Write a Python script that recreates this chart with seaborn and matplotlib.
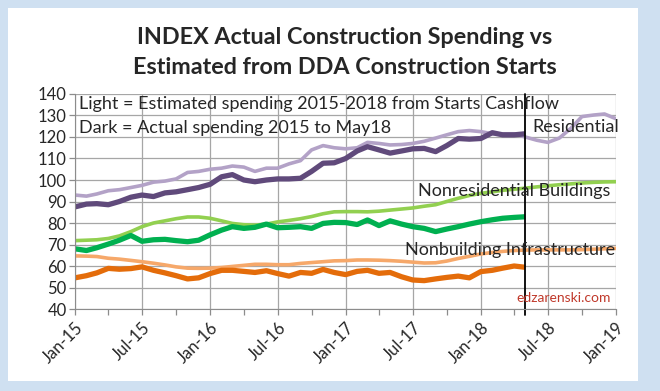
import matplotlib
matplotlib.use("Agg")
import matplotlib.pyplot as plt
import matplotlib.dates as mdates
import matplotlib.patches as mpatches
import numpy as np
import pandas as pd
import seaborn as sns

# monthly index values, Jan-15 onward
months_est = pd.date_range("2015-01-01", "2019-01-01", freq="MS")   # 49 months
months_act = pd.date_range("2015-01-01", "2018-05-01", freq="MS")   # 41 months

res_est = [93, 92.5, 93.5, 95, 95.5, 96.5, 97.5, 99, 99.5, 100.5, 103.5, 104,
           105, 105.5, 106.5, 106, 104, 105.5, 105.5, 107.5, 109, 114, 116, 115,
           114.5, 115, 117.5, 117, 116.3, 116.5, 117, 118, 119.5, 121, 122.5, 123,
           122.5, 121.5, 121.5, 121.5, 120, 118.5, 117.5, 119.5, 124, 129.5, 130.2, 130.7,
           128.5]
res_act = [87.5, 88.8, 89, 88.5, 90, 92, 93, 92.3, 94, 94.5, 95.5, 96.5,
           98, 101.5, 102.5, 100, 99.2, 100, 100.5, 100.5, 100.8, 104, 107.8, 108,
           110, 113.5, 115.5, 114, 112.5, 113.5, 114.5, 114.7, 113.2, 116, 119.3, 119,
           119.3, 122, 121, 121, 121.5]

nonres_est = [71.8, 72, 72.2, 72.8, 74, 76, 78.3, 80, 81, 82, 82.8, 82.8,
              82.2, 81, 79.8, 79.2, 79, 79.5, 80.5, 81.2, 82, 83, 84.3, 85.2,
              85.3, 85.3, 85.2, 85.5, 86, 86.5, 87, 87.8, 88.5, 90, 91.5, 92.8,
              93.8, 94.5, 95.2, 95.7, 96.2, 96.8, 97.3, 97.8, 98.2, 98.6, 98.9, 99.1,
              99.2]
nonres_act = [68, 67.2, 68.5, 70.2, 72, 74.2, 71.5, 72.2, 72.4, 71.8, 71.3, 72,
              74.5, 76.7, 78.3, 77.5, 78, 79.5, 77.8, 78, 78.3, 77.5, 79.8, 80.3,
              80.2, 79.3, 81.4, 78.8, 81, 79.5, 78.3, 77.5, 76, 77.2, 78.3, 79.5,
              80.6, 81.5, 82.2, 82.6, 82.9]

infra_est = [64.7, 64.6, 64.4, 63.6, 63.2, 62.6, 62, 61.3, 60.5, 59.6, 59, 58.9,
             59, 59.3, 59.8, 60.3, 60.8, 60.8, 60.6, 60.6, 61.2, 61.6, 62, 62.4,
             62.5, 62.8, 62.8, 62.7, 62.5, 62.2, 61.8, 61.4, 61.5, 62.3, 63.5, 64.5,
             65.6, 66.3, 66.8, 67.2, 67.4, 67.5, 67.5, 67.5, 67.5, 67.6, 67.8, 68,
             68.2]
infra_act = [54.5, 55.5, 56.8, 58.9, 58.5, 58.8, 59.6, 58, 56.8, 55.5, 54, 54.5,
             56.5, 58, 58, 57.5, 57, 57.8, 56.5, 55.3, 57, 56.6, 58.4, 57,
             56, 57.5, 58, 56.6, 57, 55, 53.5, 53.2, 54, 54.7, 55.3, 54.5,
             57.4, 58, 59, 60, 59.4]

sns.set_style("white")
plt.rcParams["font.family"] = ["Lato", "DejaVu Sans"]

fig = plt.figure(figsize=(6.6, 3.91), dpi=100)
# light blue frame around the chart
fig.patches.append(mpatches.Rectangle((0, 0), 1, 1, transform=fig.transFigure,
                                      facecolor="#cfe0f1", edgecolor="none", zorder=-2))
fig.patches.append(mpatches.Rectangle((0.012, 0.025), 0.955, 0.955, transform=fig.transFigure,
                                      facecolor="white", edgecolor="none", zorder=-1))

ax = fig.add_axes([0.1136, 0.2097, 0.8197, 0.5499])

series = [
    (months_est, res_est, "#b3a2c7", 2.6),
    (months_act, res_act, "#604a7b", 3.8),
    (months_est, nonres_est, "#92d050", 2.6),
    (months_act, nonres_act, "#00b050", 3.8),
    (months_est, infra_est, "#f6a86a", 2.6),
    (months_act, infra_act, "#e46c0a", 3.8),
]
for x, y, c, lw in series:
    sns.lineplot(x=x, y=y, ax=ax, color=c, linewidth=lw, solid_capstyle="butt")

ax.set_xlim(pd.Timestamp("2015-01-01"), pd.Timestamp("2019-01-01"))
ax.set_ylim(40, 140)
ax.set_yticks(np.arange(40, 141, 10))
ax.xaxis.set_major_locator(mdates.MonthLocator(bymonth=[1, 7]))
ax.xaxis.set_minor_locator(mdates.MonthLocator(bymonth=[4, 10]))
ax.xaxis.set_major_formatter(mdates.DateFormatter("%b-%y"))
ax.grid(True, which="major", color="#a6a6a6", linewidth=0.9)
ax.set_axisbelow(True)
for s in ["top", "right"]:
    ax.spines[s].set_visible(False)
for s in ["left", "bottom"]:
    ax.spines[s].set_color("#8c8c8c")
ax.tick_params(axis="both", which="both", direction="out", color="#8c8c8c",
               labelsize=12, length=4, width=0.9)
ax.tick_params(axis="x", which="both", bottom=True)
ax.tick_params(axis="y", left=True, pad=2)
plt.setp(ax.get_xticklabels(), rotation=45, ha="right", rotation_mode="anchor")
ax.set_xlabel("")
ax.set_ylabel("")

# vertical line at last actual month
ax.axvline(pd.Timestamp("2018-05-01"), ymin=-0.03, ymax=1, color="black",
           linewidth=1.3, clip_on=False)

ax.text(0.008, 0.955, "Light = Estimated spending 2015-2018 from Starts Cashflow",
        transform=ax.transAxes, fontsize=13, va="center", ha="left")
ax.text(0.008, 0.84, "Dark = Actual spending 2015 to May18",
        transform=ax.transAxes, fontsize=13, va="center", ha="left")
ax.text(0.845, 0.845, "Residential", transform=ax.transAxes, fontsize=13,
        va="center", ha="left")
ax.text(0.634, 0.55, "Nonresidential Buildings", transform=ax.transAxes,
        fontsize=13, va="center", ha="left")
ax.text(0.61, 0.275, "Nonbuilding Infrastructure", transform=ax.transAxes,
        fontsize=13, va="center", ha="left")
ax.text(0.99, 0.05, "edzarenski.com", transform=ax.transAxes, fontsize=10,
        color="#c0392b", va="center", ha="right")

fig.text(0.522, 0.905, "INDEX Actual Construction Spending vs", ha="center",
         va="center", fontsize=16.8, fontweight="bold")
fig.text(0.522, 0.828, "Estimated from DDA Construction Starts", ha="center",
         va="center", fontsize=16.8, fontweight="bold")

fig.savefig("out.png", dpi=100)
